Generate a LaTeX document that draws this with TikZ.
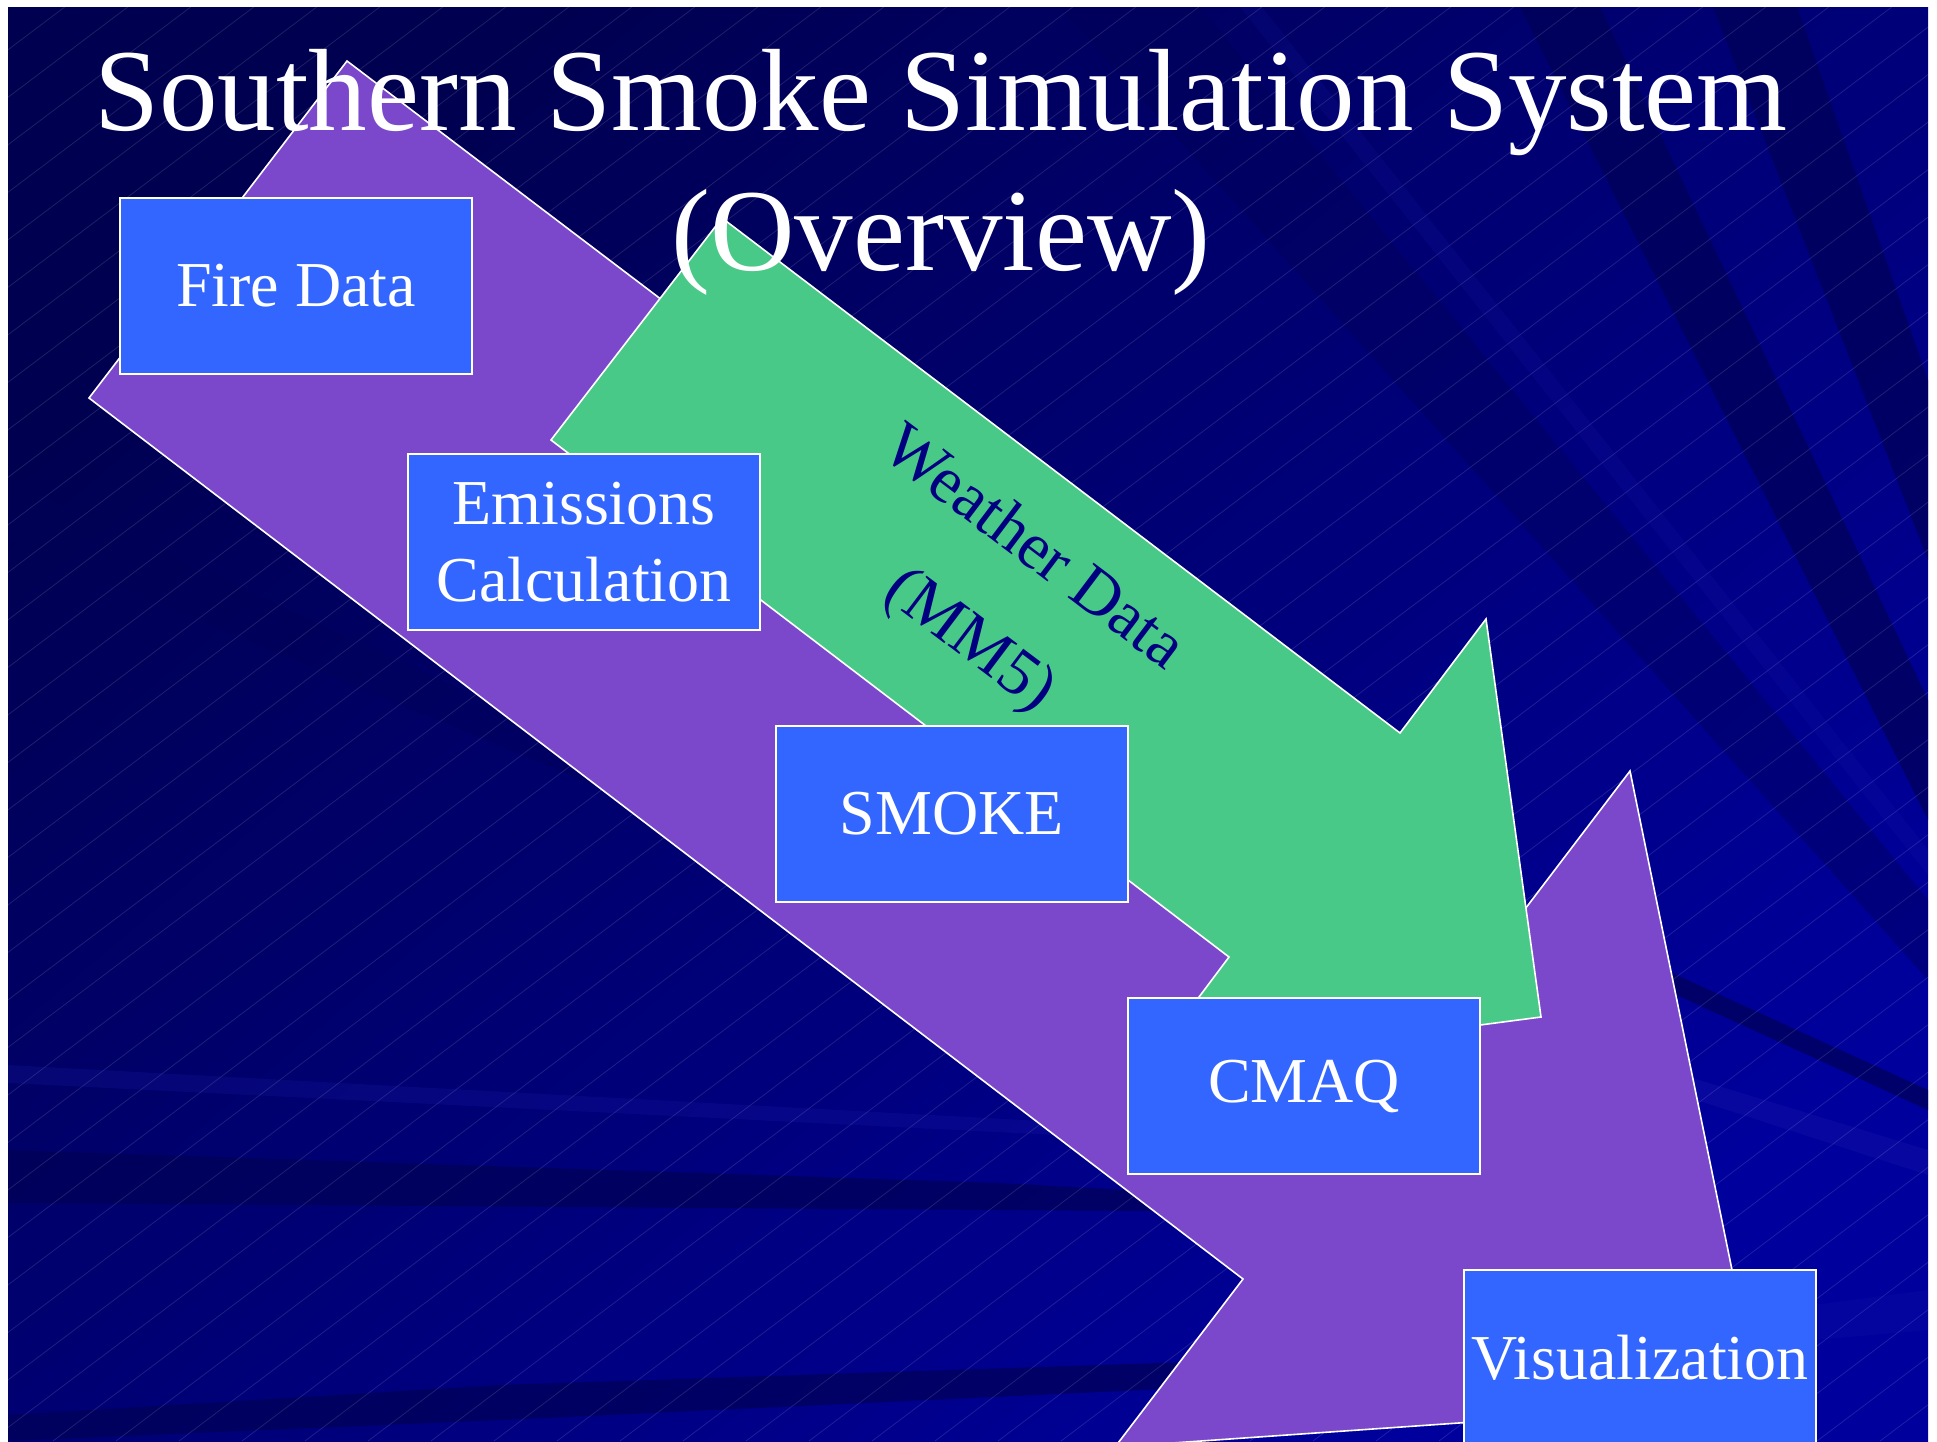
\documentclass[tikz,border=0pt]{standalone}
\usepackage{fontspec}
\setmainfont{Liberation Serif}
\usetikzlibrary{positioning}

\definecolor{bgdark}{HTML}{000050}
\definecolor{bglight}{HTML}{00009C}
\definecolor{streakdark}{HTML}{000056}
\definecolor{streaklight}{HTML}{2020B0}
\definecolor{arrowpurple}{HTML}{7B48CC}
\definecolor{arrowgreen}{HTML}{49C988}
\definecolor{boxblue}{HTML}{3366FF}
\definecolor{navytext}{HTML}{000080}

\tikzset{
  stage/.style={draw=white, line width=1.2pt, fill=boxblue, text=white,
    minimum width=176pt, minimum height=88pt, inner sep=0pt, align=center,
    font=\fontsize{32}{38.5}\selectfont},
  bigarrow/.style={draw=white, line width=0.8pt, line join=miter},
  darkstreak/.style={fill=streakdark, opacity=0.7},
  lightstreak/.style={fill=streaklight, opacity=0.25},
  titletext/.style={text=white, inner sep=0pt, font=\fontsize{58.5}{70}\selectfont},
  weathertext/.style={text=navytext, inner sep=0pt, rotate=-37,
    font=\fontsize{33}{40}\selectfont},
}

\begin{document}
\begin{tikzpicture}[x=0.5pt, y=-0.5pt]
  \useasboundingbox (0,0) rectangle (1937,1441);
  \clip (0,0) rectangle (1937,1441);
  \fill[white] (0,0) rectangle (1937,1441);

  % background
  \begin{scope}
    \clip (8,7) rectangle (1928,1441);
    \shade[top color=bgdark, bottom color=bglight, shading angle=40]
      (8,7) rectangle (1928,1441);
    % streaks
    \fill[darkstreak] (1713,7) -- (1797,7) -- (1928,380) -- (1928,560) -- cycle;
    \fill[darkstreak] (1520,7) -- (1600,7) -- (1928,700) -- (1928,820) -- cycle;
    \fill[darkstreak, opacity=0.4] (1060,7) -- (1200,7) -- (1928,900) -- (1928,980) -- cycle;
    \fill[lightstreak, opacity=0.15] (1240,7) -- (1262,7) -- (1928,850) -- (1928,875) -- cycle;
    \fill[darkstreak] (1600,940) -- (1928,1090) -- (1928,1110) -- (1600,960) -- cycle;
    \fill[lightstreak] (1650,1065) -- (1928,1150) -- (1928,1175) -- (1650,1085) -- cycle;
    \fill[lightstreak, opacity=0.15] (1700,1320) -- (1928,1290) -- (1928,1330) -- (1700,1350) -- cycle;
    \fill[lightstreak, opacity=0.2] (8,1065) -- (1300,1135) -- (1300,1147) -- (8,1083) -- cycle;
    \fill[darkstreak] (8,1150) -- (1000,1183) -- (1300,1200) -- (1300,1212) -- (1000,1210) -- (8,1203) -- cycle;
    \fill[darkstreak] (8,1415) -- (500,1385) -- (1250,1360) -- (1250,1385) -- (500,1420) -- (8,1441) -- cycle;
    \fill[darkstreak, opacity=0.35] (8,480) -- (700,800) -- (700,830) -- (8,540) -- cycle;
    % hatching
    \foreach \hx in {-1900,-1837,...,1928}
      \draw[white, opacity=0.13, line width=0.35pt] (\hx,1441) -- ++(1911,-1441);
  \end{scope}

  % arrows
  \filldraw[bigarrow, fill=arrowpurple] (347,61) -- (1503,938) -- (1630,771)
    -- (1759,1402) -- (1115,1447) -- (1243,1279) -- (89,398) -- cycle;
  \filldraw[bigarrow, fill=arrowgreen] (722,218) -- (1400,733) -- (1486,619)
    -- (1541,1017) -- (1145,1069) -- (1229,957) -- (551,440) -- cycle;

  % stages
  \node[stage] (fire) at (296,286) {Fire Data};
  \node[stage] (emissions) at (584,542) {Emissions\\Calculation};
  \node[stage] (smoke) at (952,814) {SMOKE};
  \node[stage] (cmaq) at (1304,1086) {CMAQ};
  \node[stage] (vis) at (1640,1358) {Visualization};

  \node[weathertext] (weather) at (1036,545) {Weather Data};
  \node[weathertext] (mm5) at (969,642) {(MM5)};

  % title
  \node[titletext, anchor=base] (title1) at (941,130) {Southern Smoke Simulation System};
  \node[titletext, anchor=base] (title2) at (941,270) {(Overview)};
\end{tikzpicture}
\end{document}
